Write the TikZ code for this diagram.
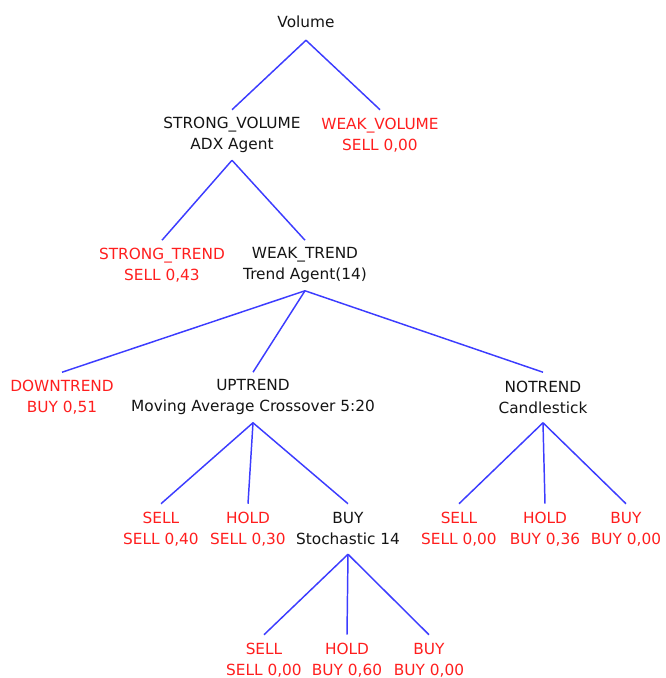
\documentclass[tikz,border=0pt]{standalone}
\usepackage{fontspec}
\setmainfont{DejaVu Sans}
\definecolor{edgeblue}{RGB}{60,60,255}
\definecolor{leafred}{RGB}{255,30,30}
\definecolor{txt}{RGB}{20,20,20}
\begin{document}
\begin{tikzpicture}[x=0.75pt,y=-0.75pt,
  every node/.style={font=\fontsize{11.5pt}{15.75pt}\selectfont, align=center, inner sep=0pt},
  inner/.style={text=txt, minimum height=37.5pt},
  leaf/.style={text=leafred, minimum height=37.5pt},
  root/.style={text=txt, minimum height=27pt},
  edge/.style={draw=edgeblue, line width=1.1pt}]
\useasboundingbox (0,0) rectangle (665,678);
\node[root]  (vol) at (306,22) {Volume};
\node[inner] (sv) at (232,135) {STRONG\_VOLUME\\ADX Agent};
\node[leaf]  (wv) at (380,135) {WEAK\_VOLUME\\SELL 0,00};
\node[leaf]  (st) at (162,265.5) {STRONG\_TREND\\SELL 0,43};
\node[inner] (wt) at (305,265.5) {WEAK\_TREND\\Trend Agent(14)};
\node[leaf]  (dt) at (62,397.5) {DOWNTREND\\BUY 0,51};
\node[inner] (up) at (253,397.5) {UPTREND\\Moving Average Crossover 5:20};
\node[inner] (nt) at (543,397.5) {NOTREND\\Candlestick};
\node[leaf]  (u1) at (161,529) {SELL\\SELL 0,40};
\node[leaf]  (u2) at (248,529) {HOLD\\SELL 0,30};
\node[inner] (u3) at (348,529) {BUY\\Stochastic 14};
\node[leaf]  (n1) at (459,529) {SELL\\SELL 0,00};
\node[leaf]  (n2) at (545,529) {HOLD\\BUY 0,36};
\node[leaf]  (n3) at (626,529) {BUY\\BUY 0,00};
\node[leaf]  (s1) at (264,660) {SELL\\SELL 0,00};
\node[leaf]  (s2) at (347,660) {HOLD\\BUY 0,60};
\node[leaf]  (s3) at (429,660) {BUY\\BUY 0,00};
\draw[edge] (vol.south) -- (sv.north);
\draw[edge] (vol.south) -- (wv.north);
\draw[edge] (sv.south) -- (st.north);
\draw[edge] (sv.south) -- (wt.north);
\draw[edge] (wt.south) -- (dt.north);
\draw[edge] (wt.south) -- (up.north);
\draw[edge] (wt.south) -- (nt.north);
\draw[edge] (up.south) -- (u1.north);
\draw[edge] (up.south) -- (u2.north);
\draw[edge] (up.south) -- (u3.north);
\draw[edge] (nt.south) -- (n1.north);
\draw[edge] (nt.south) -- (n2.north);
\draw[edge] (nt.south) -- (n3.north);
\draw[edge] (u3.south) -- (s1.north);
\draw[edge] (u3.south) -- (s2.north);
\draw[edge] (u3.south) -- (s3.north);
\end{tikzpicture}
\end{document}
